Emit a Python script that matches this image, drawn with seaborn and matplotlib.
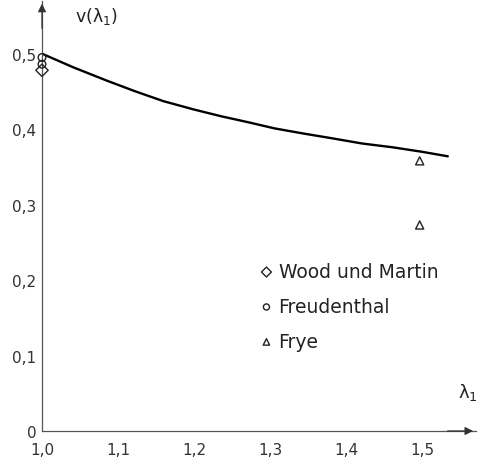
import numpy as np
import pandas as pd
import matplotlib
matplotlib.use("Agg")
import matplotlib.pyplot as plt
import seaborn as sns

# curve
curve_x = [1.0, 1.041, 1.086, 1.123, 1.160, 1.200, 1.236, 1.272, 1.306,
           1.345, 1.381, 1.421, 1.461, 1.500, 1.534]
curve_y = [0.500, 0.482, 0.464, 0.450, 0.437, 0.426, 0.417, 0.409, 0.401,
           0.394, 0.388, 0.381, 0.376, 0.370, 0.364]

# measured points
wood_x = [1.0]
wood_y = [0.478]
freud_x = [1.0, 1.0]
freud_y = [0.495, 0.486]
frye_x = [1.497, 1.497]
frye_y = [0.358, 0.273]

xticks = [1.0, 1.1, 1.2, 1.3, 1.4, 1.5]
xtick_labels = ["1,0", "1,1", "1,2", "1,3", "1,4", "1,5"]
yticks = [0, 0.1, 0.2, 0.3, 0.4, 0.5]
ytick_labels = ["0", "0,1", "0,2", "0,3", "0,4", "0,5"]

sns.set_style("white")
plt.rcParams['font.family'] = ['DejaVu Sans']

fig = plt.figure(figsize=(4.8, 4.64), dpi=100)
ax = fig.add_axes([0.0875, 0.069, 0.904, 0.927])

curve = pd.DataFrame({'x': curve_x, 'y': curve_y})
sns.lineplot(data=curve, x='x', y='y', ax=ax, color='black', lw=1.7)

ink = '#222222'
sns.scatterplot(x=wood_x, y=wood_y, ax=ax, marker='D', s=40, color=ink,
                facecolor='none', edgecolor=ink, linewidth=1.0,
                label='Wood und Martin', clip_on=False, zorder=5)
sns.scatterplot(x=freud_x, y=freud_y, ax=ax, marker='o', s=30, color=ink,
                facecolor='none', edgecolor=ink, linewidth=1.0,
                label='Freudenthal', clip_on=False, zorder=5)
sns.scatterplot(x=frye_x, y=frye_y, ax=ax, marker='^', s=34, color=ink,
                facecolor='none', edgecolor=ink, linewidth=1.0,
                label='Frye', clip_on=False, zorder=5)

ax.set_xlim(1.0, 1.571)
ax.set_ylim(0, 0.57)
ax.set_xticks(xticks)
ax.set_xticklabels(xtick_labels)
ax.set_yticks(yticks)
ax.set_yticklabels(ytick_labels)
ax.tick_params(axis='both', labelsize=11, colors='#333333', length=3, width=0.8, pad=1)
ax.tick_params(axis='x', direction='in', pad=8)
ax.tick_params(axis='y', direction='out')
ax.set_xlabel('')
ax.set_ylabel('')

for side in ['top', 'right']:
    ax.spines[side].set_visible(False)
for side in ['left', 'bottom']:
    ax.spines[side].set_color('#555555')
    ax.spines[side].set_linewidth(0.9)

# arrow heads on the axes
ax.annotate('', xy=(1.0, 0.57), xytext=(1.0, 0.53),
            arrowprops=dict(arrowstyle='-|>', color='#333333', lw=0.9,
                            mutation_scale=12), annotation_clip=False)
ax.annotate('', xy=(1.571, 0), xytext=(1.53, 0),
            arrowprops=dict(arrowstyle='-|>', color='#333333', lw=0.9,
                            mutation_scale=12), annotation_clip=False)

ax.text(1.044, 0.550, 'v(λ$_1$)', fontsize=12.5, color='#222222',
        ha='left', va='center')
ax.text(1.548, 0.052, 'λ$_1$', fontsize=13, color='#222222',
        ha='left', va='center')

ax.legend(loc='upper left', bbox_to_anchor=(1.283, 0.224),
          bbox_transform=ax.transData, frameon=False, fontsize=13.5,
          handletextpad=0.15, labelspacing=0.85, markerscale=0.8,
          handlelength=1.0, borderaxespad=0, borderpad=0,
          labelcolor='#222222')

fig.savefig('out.png', dpi=100)
